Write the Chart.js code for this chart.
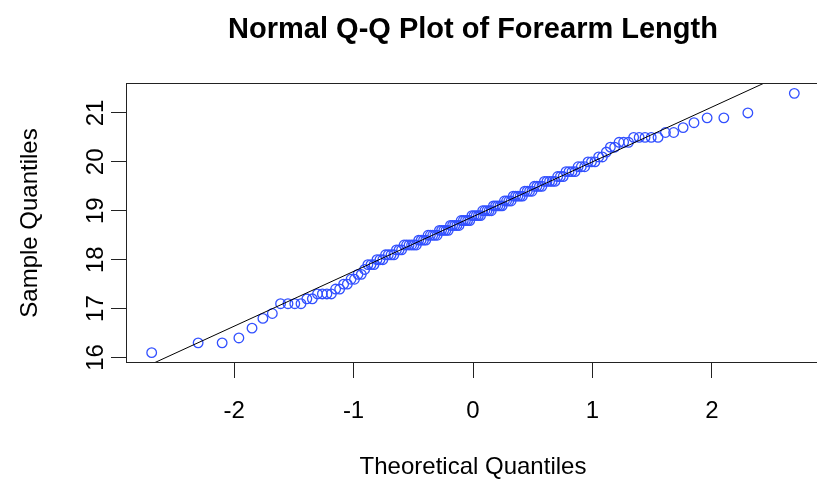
<!DOCTYPE html>
<html>
<head>
<meta charset="utf-8">
<script src="https://cdn.jsdelivr.net/npm/chart.js@4.4.0/dist/chart.umd.min.js"></script>
<style>
  html, body { margin: 0; padding: 0; background: #fff; overflow: hidden; }
  #qqChart { display: block; }
</style>
</head>
<body>
<!-- R's plot region runs a few px past the right edge of the 817px picture -->
<canvas id="qqChart" width="820" height="479"></canvas>
<script>
// theoretical normal quantiles (x) and sorted forearm lengths (y), 140 points
const theoretical = [
  -2.690, -2.301, -2.100, -1.960, -1.850, -1.759, -1.680, -1.611, -1.549, -1.492,
  -1.440, -1.391, -1.345, -1.302, -1.261, -1.223, -1.186, -1.150, -1.116, -1.083,
  -1.052, -1.021, -0.992, -0.963, -0.935, -0.907, -0.880, -0.854, -0.829, -0.804,
  -0.779, -0.755, -0.732, -0.709, -0.686, -0.663, -0.641, -0.619, -0.598, -0.577,
  -0.556, -0.535, -0.514, -0.494, -0.474, -0.454, -0.434, -0.414, -0.395, -0.376,
  -0.357, -0.337, -0.319, -0.300, -0.281, -0.263, -0.244, -0.226, -0.207, -0.189,
  -0.171, -0.153, -0.135, -0.117, -0.099, -0.081, -0.063, -0.045, -0.027, -0.009,
  0.009, 0.027, 0.045, 0.063, 0.081, 0.099, 0.117, 0.135, 0.153, 0.171,
  0.189, 0.207, 0.226, 0.244, 0.263, 0.281, 0.300, 0.319, 0.337, 0.357,
  0.376, 0.395, 0.414, 0.434, 0.454, 0.474, 0.494, 0.514, 0.535, 0.556,
  0.577, 0.598, 0.619, 0.641, 0.663, 0.686, 0.709, 0.732, 0.755, 0.779,
  0.804, 0.829, 0.854, 0.880, 0.907, 0.935, 0.963, 0.992, 1.021, 1.052,
  1.083, 1.116, 1.150, 1.186, 1.223, 1.261, 1.302, 1.345, 1.391, 1.440,
  1.492, 1.549, 1.611, 1.680, 1.759, 1.850, 1.960, 2.100, 2.301, 2.690
];
const sample = [
  16.1, 16.3, 16.3, 16.4, 16.6, 16.8, 16.9, 17.1, 17.1, 17.1,
  17.1, 17.2, 17.2, 17.3, 17.3, 17.3, 17.3, 17.4, 17.4, 17.5,
  17.5, 17.6, 17.6, 17.7, 17.7, 17.8, 17.9, 17.9, 17.9, 18.0,
  18.0, 18.0, 18.1, 18.1, 18.1, 18.1, 18.2, 18.2, 18.2, 18.3,
  18.3, 18.3, 18.3, 18.3, 18.3, 18.4, 18.4, 18.4, 18.4, 18.5,
  18.5, 18.5, 18.5, 18.5, 18.6, 18.6, 18.6, 18.6, 18.6, 18.7,
  18.7, 18.7, 18.7, 18.7, 18.8, 18.8, 18.8, 18.8, 18.8, 18.9,
  18.9, 18.9, 18.9, 18.9, 19.0, 19.0, 19.0, 19.0, 19.0, 19.1,
  19.1, 19.1, 19.1, 19.1, 19.2, 19.2, 19.2, 19.2, 19.3, 19.3,
  19.3, 19.3, 19.3, 19.4, 19.4, 19.4, 19.4, 19.5, 19.5, 19.5,
  19.5, 19.6, 19.6, 19.6, 19.6, 19.6, 19.7, 19.7, 19.7, 19.8,
  19.8, 19.8, 19.8, 19.9, 19.9, 19.9, 20.0, 20.0, 20.0, 20.1,
  20.1, 20.2, 20.3, 20.3, 20.4, 20.4, 20.4, 20.5, 20.5, 20.5,
  20.5, 20.5, 20.6, 20.6, 20.7, 20.8, 20.9, 20.9, 21.0, 21.4
];

// qqline
const lineX = [-3, 3];
const lineIntercept = 18.88;
const lineSlope = 1.12;

const xTicks = [-2, -1, 0, 1, 2];
const yTicks = [16, 17, 18, 19, 20, 21];

const FONT = "'Liberation Sans', Arial, Helvetica, sans-serif";

// box around the plot region + rotated y tick labels like R
const rBox = {
  id: "rBox",
  afterDraw(chart) {
    const { ctx, chartArea: a, scales } = chart;
    ctx.save();
    ctx.strokeStyle = "#222";
    ctx.lineWidth = 1;
    ctx.strokeRect(Math.round(a.left) + 0.5, Math.round(a.top) + 0.5,
      Math.round(a.right - a.left) - 1, Math.round(a.bottom - a.top) - 1);

    ctx.fillStyle = "#000";
    ctx.font = "24px " + FONT;
    ctx.textAlign = "center";
    ctx.textBaseline = "middle";
    yTicks.forEach((v) => {
      const py = scales.y.getPixelForValue(v);
      ctx.save();
      ctx.translate(96, py);
      ctx.rotate(-Math.PI / 2);
      ctx.fillText(String(v), 0, 0);
      ctx.restore();
    });
    ctx.restore();
  },
};

const noPad = (s) => { s.paddingLeft = 0; s.paddingRight = 0; s.paddingTop = 0; s.paddingBottom = 0; };

var ctx = document.getElementById("qqChart").getContext("2d");
var qqChart = new Chart(ctx, {
  type: "scatter",
  data: {
    datasets: [
      {
        label: "qqline",
        xAxisID: "x",
        yAxisID: "y",
        data: lineX.map((x) => ({ x: x, y: lineIntercept + lineSlope * x })),
        showLine: true,
        borderColor: "#000",
        borderWidth: 1,
        pointRadius: 0,
      },
      {
        label: "Sample",
        xAxisID: "x",
        yAxisID: "y",
        data: theoretical.map((x, i) => ({ x: x, y: sample[i] })),
        pointStyle: "circle",
        pointRadius: 4.8,
        pointBorderWidth: 1.3,
        pointBorderColor: "rgb(50,80,255)",
        pointBackgroundColor: "rgba(0,0,0,0)",
      },
    ],
  },
  options: {
    responsive: false,
    animation: false,
    devicePixelRatio: 1,
    layout: { autoPadding: false, padding: 0 },
    plugins: {
      legend: { display: false },
      tooltip: { enabled: false },
    },
    scales: {
      x: {
        type: "linear",
        position: "bottom",
        min: -2.905,
        max: 2.905,
        afterBuildTicks: (s) => { s.ticks = xTicks.map((v) => ({ value: v })); },
        afterFit: (s) => { s.height = 116; noPad(s); },
        ticks: { color: "#000", font: { family: FONT, size: 24 }, padding: 19, maxRotation: 0, autoSkip: false },
        grid: { drawOnChartArea: false, tickLength: 15, color: "#222" },
        border: { display: false },
        title: {
          display: true,
          text: "Theoretical Quantiles",
          color: "#000",
          font: { family: FONT, size: 24, lineHeight: 1.1 },
          padding: { top: 0, bottom: -2 },
        },
      },
      y: {
        type: "linear",
        position: "left",
        min: 15.888,
        max: 21.612,
        afterBuildTicks: (s) => { s.ticks = yTicks.map((v) => ({ value: v })); },
        afterFit: (s) => { s.width = 126; noPad(s); },
        ticks: { display: false },
        grid: { drawOnChartArea: false, tickLength: 15, color: "#222" },
        border: { display: false },
        title: {
          display: true,
          text: "Sample Quantiles",
          color: "#000",
          font: { family: FONT, size: 24, lineHeight: 1.1 },
          padding: { top: 17, bottom: 0 },
        },
      },
      // top axis only carries the main title, centred over the plot region
      top: {
        type: "linear",
        position: "top",
        afterFit: (s) => { s.height = 83; noPad(s); },
        ticks: { display: false },
        grid: { display: false },
        border: { display: false },
        title: {
          display: true,
          text: "Normal Q-Q Plot of Forearm Length",
          color: "#000",
          font: { family: FONT, size: 29, weight: "bold", lineHeight: 1.2 },
          padding: { top: 13, bottom: 0 },
        },
      },
    },
  },
  plugins: [rBox],
});
</script>
</body>
</html>
